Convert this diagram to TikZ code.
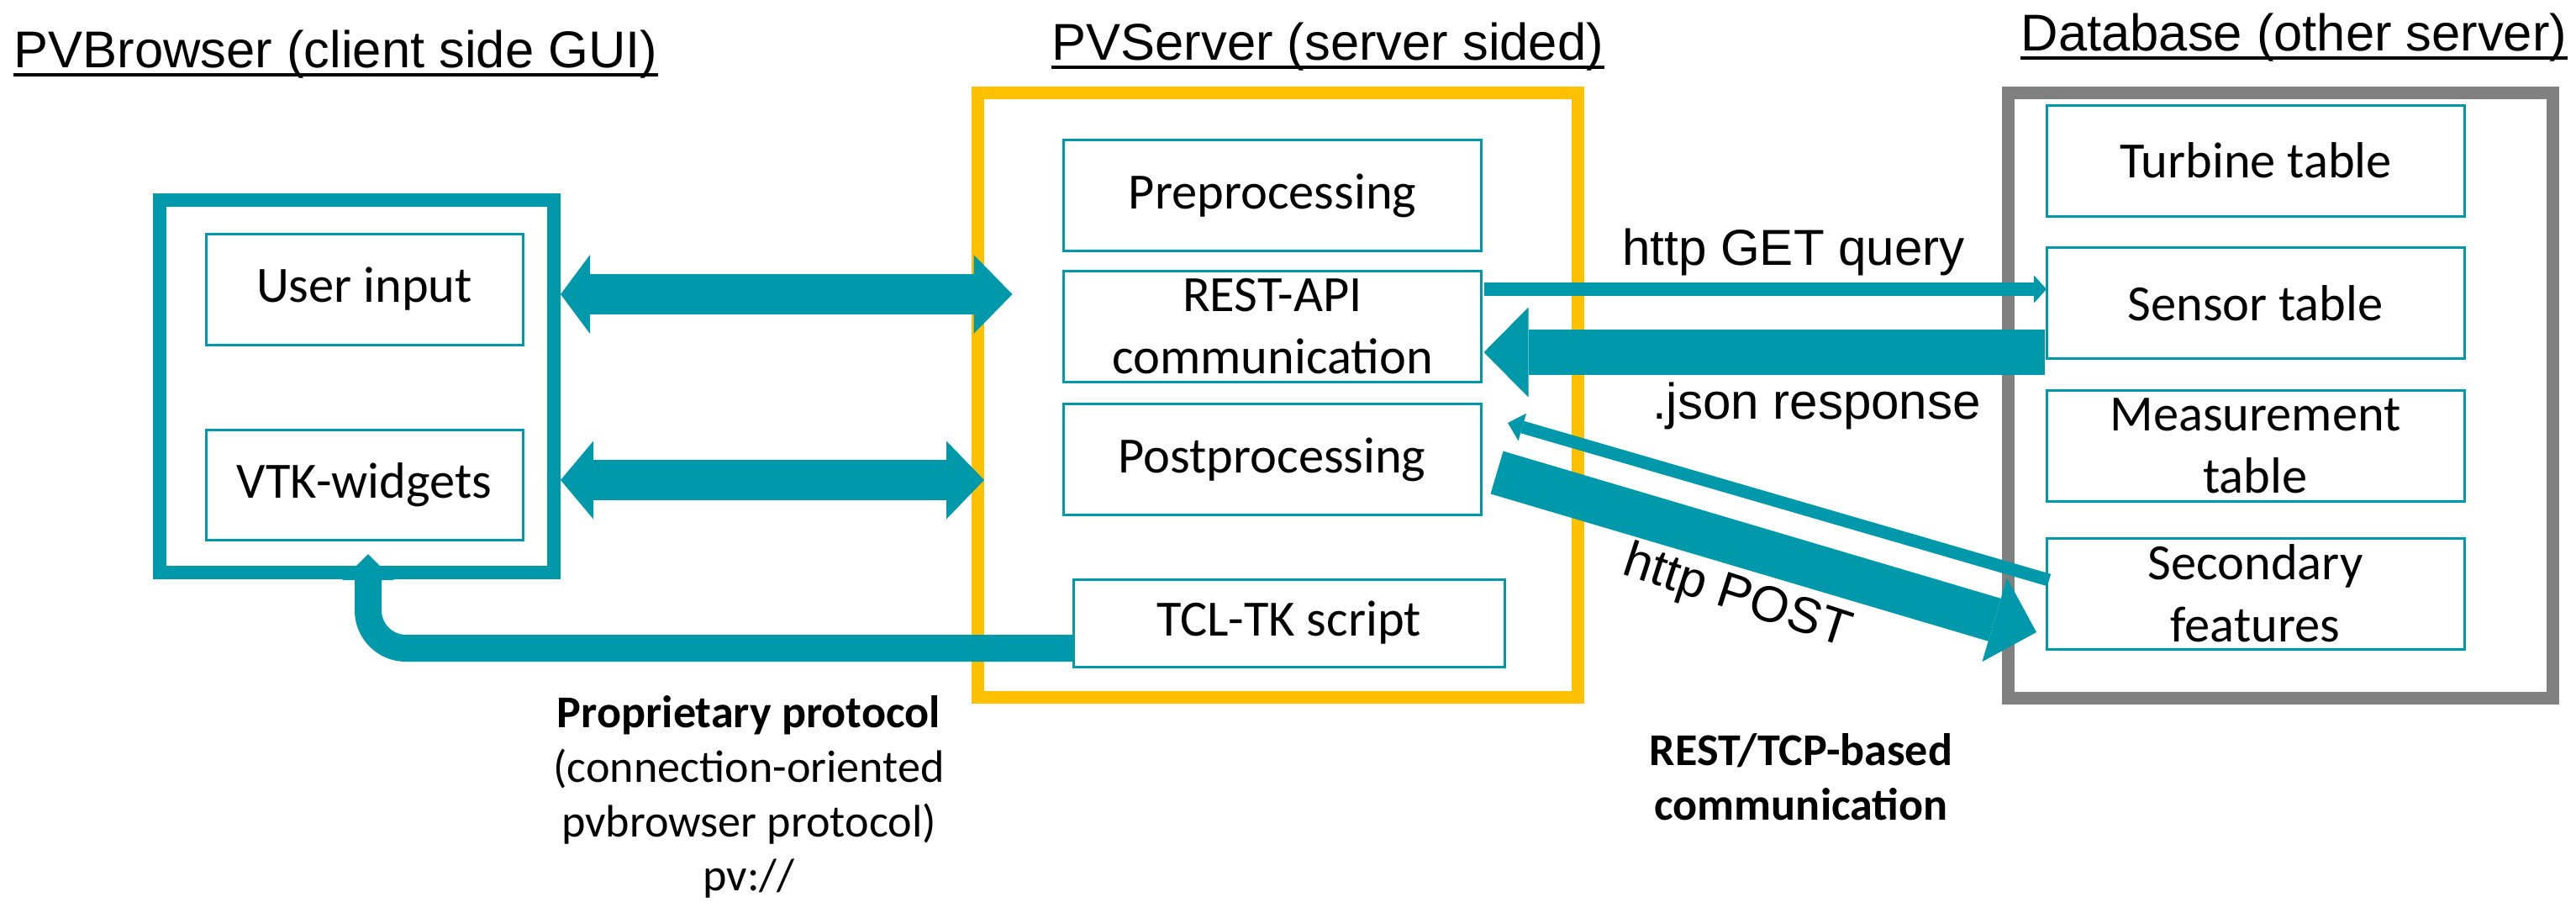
\documentclass[tikz,border=0pt]{standalone}
\usepackage{fontspec}
\setmainfont{Carlito}
\newfontfamily\arialfont{Liberation Sans}
\usetikzlibrary{arrows.meta,calc}
\definecolor{flowTeal}{HTML}{0099AB}
\definecolor{srvYellow}{HTML}{FFC000}
\definecolor{dbGray}{HTML}{808080}
\def\pw{49.7}
\def\ph{13.2}

\begin{document}
\begin{tikzpicture}[
  x=1mm, y=-1mm,
  title/.style={font=\arialfont\fontsize{17.5pt}{21pt}\selectfont, anchor=base west, inner sep=0pt},
  underl/.style={line width=0.4mm},
  container/.style={inner sep=0pt, line width=1.5mm},
  part/.style={draw=flowTeal, line width=0.3mm, inner sep=0pt, outer sep=0pt, align=center,
               font=\fontsize{17.2pt}{21pt}\selectfont},
  lbl/.style={font=\arialfont\fontsize{17.1pt}{20pt}\selectfont, inner sep=0pt, anchor=base},
  note/.style={font=\fontsize{15.4pt}{18.4pt}\selectfont, inner sep=0pt, align=center, anchor=north},
  flow/.style={draw=flowTeal},
]
\useasboundingbox (0,0) rectangle (306.5,108.5);

% =====================================================================
% TITLES
% =====================================================================
\node[title] (tBrowser) at (1.6,8.0) {PVBrowser (client side GUI)};
\node[title] (tServer) at (125.1,7.1) {PVServer (server sided)};
\node[title] (tDb) at (240.4,6.0) {Database (other server)};
\foreach \t in {tBrowser,tServer,tDb}
  \draw[underl] ($(\t.base west)+(0,0.9)$) -- ($(\t.base east)+(0,0.9)$);

% =====================================================================
% CONTAINERS
% =====================================================================
\node[container, draw=flowTeal, line width=1.6mm, minimum width=46.9mm, minimum height=44.35mm] (browser) at (42.45,45.925) {};
\node[container, draw=srvYellow, minimum width=71.4mm, minimum height=71.9mm] (server) at (152.05,47.0) {};
\node[container, draw=dbGray, minimum width=64.8mm, minimum height=72.0mm] (database) at (271.35,47.05) {};

% ---------- client side ----------
\node[part, minimum width=37.7mm, minimum height=13.2mm] (user) at (43.35,34.4) {User input};
\node[part, minimum width=37.7mm, minimum height=13.1mm] (vtk) at (43.35,57.65) {VTK-widgets};

% ---------- server side ----------
\node[part, minimum width=\pw mm, minimum height=\ph mm] (pre) at (151.4,23.25) {Preprocessing};
\node[part, minimum width=\pw mm, minimum height=\ph mm] (rest) at (151.4,38.8) {REST-API\\communication};
\node[part, minimum width=\pw mm, minimum height=\ph mm] (post) at (151.35,54.65) {Postprocessing};
\node[part, minimum width=51.3mm, minimum height=10.4mm] (tcl) at (153.35,74.1) {TCL-TK script};

% ---------- database ----------
\node[part, minimum width=\pw mm, minimum height=\ph mm] (turbine) at (268.4,19.1) {Turbine table};
\node[part, minimum width=\pw mm, minimum height=\ph mm] (sensor) at (268.35,36.05) {Sensor table};
\node[part, minimum width=\pw mm, minimum height=\ph mm] (measure) at (268.35,53.0) {Measurement\\table};
\node[part, minimum width=\pw mm, minimum height=\ph mm] (secondary) at (268.35,70.6) {Secondary\\features};

% =====================================================================
% ARROWS
% =====================================================================
\draw[flow, line width=4.8mm, {Triangle[length=3.5mm,width=9.4mm,line width=0pt]}-{Triangle[length=4.6mm,width=9.4mm,line width=0pt]}]
  ($(user -| browser.east)+(0,0.6)$) -- ($(user -| rest.west)+(-6.1,0.6)$);
\draw[flow, line width=4.8mm, {Triangle[length=3.9mm,width=9.3mm,line width=0pt]}-{Triangle[length=4.5mm,width=9.3mm,line width=0pt]}]
  ($(vtk -| browser.east)+(0,-0.55)$) -- ($(vtk -| post.west)+(-9.4,-0.55)$);
% http GET / .json response
\draw[flow, line width=1.6mm, -{Triangle[length=1.5mm,width=3.3mm,line width=0pt]}]
  ($(rest.east)+(0.3,-4.4)$) -- ($(rest.east -| sensor.west)+(0,-4.4)$);
\draw[flow, line width=5.4mm, -{Triangle[length=5.3mm,width=10.7mm,line width=0pt]}]
  ($(sensor.west)+(-0.2,5.85)$) -- ($(sensor.west -| rest.east)+(0.3,5.85)$);
% http POST and back
\draw[flow, line width=1.5mm, -{Triangle[length=1.8mm,width=3.4mm,line width=0pt]}]
  ($(secondary.west)+(0.3,-1.6)$) -- ($(post.east)+(3.2,-4.35)$);
\draw[flow, line width=5.3mm, -{Triangle[length=5.2mm,width=10.4mm,line width=0pt]}]
  ($(post.east)+(1.9,1.55)$) -- ($(secondary.west)+(-1.2,4.6)$);
% TCL-TK back to the widgets
\draw[flow, line width=3.2mm, rounded corners=4.5mm, -{Triangle[length=3.1mm,width=6.2mm,line width=0pt]}]
  ($(tcl.west)+(0,3.0)$) -| ($(vtk.south)+(0.45,1.7)$);

% =====================================================================
% LABELS
% =====================================================================
\node[lbl] (getLbl) at (213.4,31.5) {http GET query};
\node[lbl] (jsonLbl) at (216.15,49.8) {.json response};
\node[lbl, rotate=-18] (postLbl) at (206.2,72.6) {http POST};
\node[note] (protoLbl) at (89.1,82.7)
  {\textbf{Proprietary protocol}\\(connection-oriented\\pvbrowser protocol)\\pv://};
\node[note] (restLbl) at (214.3,87.2) {\textbf{REST/TCP-based}\\\textbf{communication}};

\end{tikzpicture}
\end{document}
